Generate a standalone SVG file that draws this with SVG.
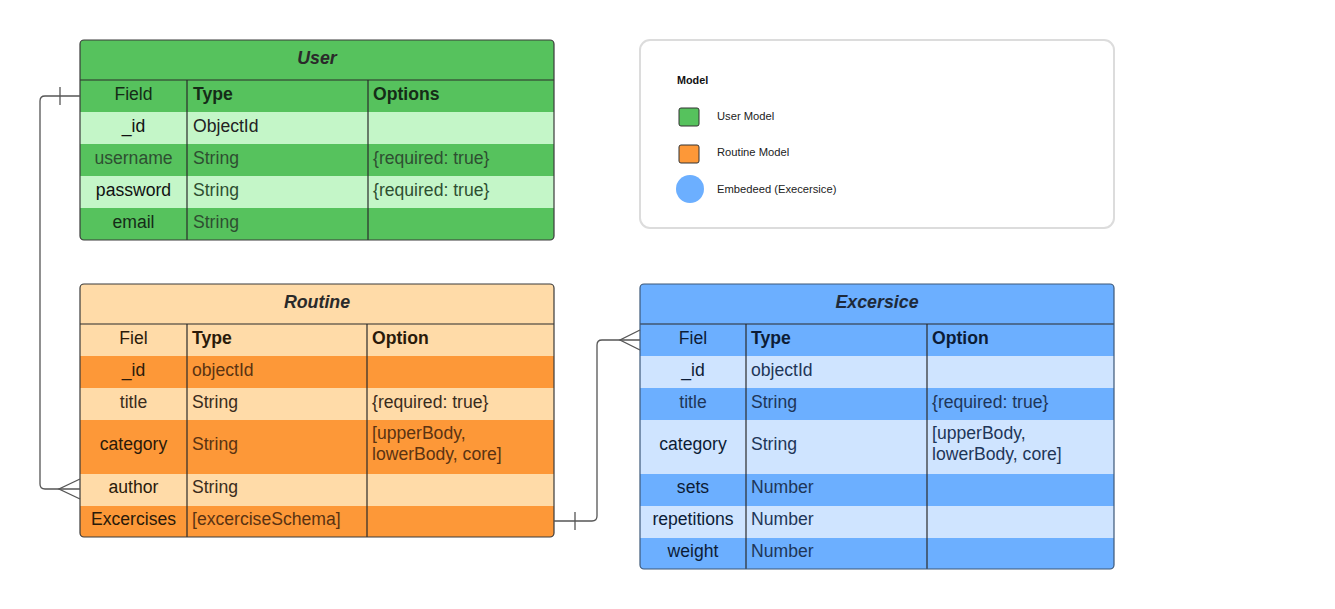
<svg xmlns="http://www.w3.org/2000/svg" width="1335" height="609" viewBox="0 0 1335 609">
<style>
text{font-family:"Liberation Sans",Arial,sans-serif;}
.ttl{font-size:17.8px;font-weight:bold;font-style:italic;text-anchor:middle;}
.c{font-size:17.6px;}
.m{text-anchor:middle;}
.b{font-weight:bold;}
.frame{fill:none;stroke:#3a3a3a;stroke-width:1.2;}
.div{stroke:#2a2a2a;stroke-width:1.2;}
.conn{fill:none;stroke:#555;stroke-width:1.3;}
.lg{font-size:11.2px;fill:#222;}
.g1{fill:#56c25d}.g2{fill:#c4f6c8}
.o1{fill:#fd9838}.o2{fill:#ffdba8}
.b1{fill:#6cafff}.b2{fill:#cfe4ff}
.gt{fill:#152c17}.gk{fill:#111}.gs{fill:#2e4f31}.gd{fill:#222}
.ot{fill:#2a1a0a}.os{fill:#5a3312}.ol{fill:#3a2c1c}
.bt{fill:#0c1c36}.bs{fill:#1e3658}
</style>
<defs>
<clipPath id="cu"><rect x="80" y="40" width="474" height="200" rx="4"/></clipPath>
<clipPath id="cr"><rect x="80" y="284" width="474" height="253" rx="4"/></clipPath>
<clipPath id="ce"><rect x="640" y="284" width="474" height="285" rx="4"/></clipPath>
</defs>
<rect width="1335" height="609" fill="#ffffff"/>

<g id="legend">
<rect x="640" y="40" width="474" height="188" rx="10" fill="#fff" stroke="#dcdcdc" stroke-width="2"/>
<text x="677" y="84" style="font-size:10.8px;font-weight:bold;fill:#111">Model</text>
<rect x="679" y="108" width="20" height="18" rx="2" fill="#56c25d" stroke="#333" stroke-width="1"/>
<text x="717" y="120" class="lg">User Model</text>
<rect x="679" y="145" width="20" height="18" rx="2" fill="#fd9838" stroke="#333" stroke-width="1"/>
<text x="717" y="156" class="lg">Routine Model</text>
<circle cx="690" cy="189" r="14" fill="#6cafff"/>
<text x="717" y="193" class="lg">Embedeed (Execersice)</text>
</g>

<g id="user">
<g clip-path="url(#cu)">
<rect x="80" y="40" width="474" height="40" class="g1"/>
<rect x="80" y="80" width="474" height="32" class="g1"/>
<rect x="80" y="112" width="474" height="32" class="g2"/>
<rect x="80" y="144" width="474" height="32" class="g1"/>
<rect x="80" y="176" width="474" height="32" class="g2"/>
<rect x="80" y="208" width="474" height="32" class="g1"/>
</g>
<line x1="80" y1="80" x2="554" y2="80" class="div"/>
<line x1="187" y1="80" x2="187" y2="240" class="div"/>
<line x1="368" y1="80" x2="368" y2="240" class="div"/>
<rect x="80" y="40" width="474" height="200" rx="4" class="frame"/>
<text x="317" y="64" class="ttl" fill="#2a2a2a">User</text>
<text x="133.5" y="100" class="c m gt">Field</text>
<text x="193" y="100" class="c b gt">Type</text>
<text x="373" y="100" class="c b gt">Options</text>
<text x="133.5" y="132" class="c m gk">_id</text>
<text x="193" y="132" class="c gd">ObjectId</text>
<text x="133.5" y="164" class="c m gs">username</text>
<text x="193" y="164" class="c gs">String</text>
<text x="373" y="164" class="c gs">{required: true}</text>
<text x="133.5" y="196" class="c m gk">password</text>
<text x="193" y="196" class="c gs">String</text>
<text x="373" y="196" class="c gs">{required: true}</text>
<text x="133.5" y="228" class="c m gt">email</text>
<text x="193" y="228" class="c gs">String</text>
</g>

<g id="routine">
<g clip-path="url(#cr)">
<rect x="80" y="284" width="474" height="40" class="o2"/>
<rect x="80" y="324" width="474" height="32" class="o2"/>
<rect x="80" y="356" width="474" height="32" class="o1"/>
<rect x="80" y="388" width="474" height="32" class="o2"/>
<rect x="80" y="420" width="474" height="54" class="o1"/>
<rect x="80" y="474" width="474" height="32" class="o2"/>
<rect x="80" y="506" width="474" height="31" class="o1"/>
</g>
<line x1="80" y1="324" x2="554" y2="324" class="div"/>
<line x1="187" y1="324" x2="187" y2="537" class="div"/>
<line x1="367" y1="324" x2="367" y2="537" class="div"/>
<rect x="80" y="284" width="474" height="253" rx="4" class="frame"/>
<text x="317" y="308" class="ttl" fill="#2a2a2a">Routine</text>
<text x="133.5" y="344" class="c m ot">Fiel</text>
<text x="192" y="344" class="c b ot">Type</text>
<text x="372" y="344" class="c b ot">Option</text>
<text x="133.5" y="376" class="c m ot">_id</text>
<text x="192" y="376" class="c os">objectId</text>
<text x="133.5" y="408" class="c m ol">title</text>
<text x="192" y="408" class="c ol">String</text>
<text x="372" y="408" class="c ol">{required: true}</text>
<text x="133.5" y="450" class="c m ot">category</text>
<text x="192" y="450" class="c os">String</text>
<text x="372" y="439" class="c os">[upperBody,</text>
<text x="372" y="460" class="c os">lowerBody, core]</text>
<text x="133.5" y="493" class="c m ot">author</text>
<text x="192" y="493" class="c ol">String</text>
<text x="133.5" y="525" class="c m ot">Excercises</text>
<text x="192" y="525" class="c os">[excerciseSchema]</text>
</g>

<g id="excersice">
<g clip-path="url(#ce)">
<rect x="640" y="284" width="474" height="40" class="b1"/>
<rect x="640" y="324" width="474" height="32" class="b1"/>
<rect x="640" y="356" width="474" height="32" class="b2"/>
<rect x="640" y="388" width="474" height="32" class="b1"/>
<rect x="640" y="420" width="474" height="54" class="b2"/>
<rect x="640" y="474" width="474" height="32" class="b1"/>
<rect x="640" y="506" width="474" height="32" class="b2"/>
<rect x="640" y="538" width="474" height="31" class="b1"/>
</g>
<line x1="640" y1="324" x2="1114" y2="324" class="div"/>
<line x1="746" y1="324" x2="746" y2="569" class="div"/>
<line x1="927" y1="324" x2="927" y2="569" class="div"/>
<rect x="640" y="284" width="474" height="285" rx="4" fill="none" stroke="#3d5878" stroke-width="1.2"/>
<text x="877" y="308" class="ttl" fill="#1e2a3a">Excersice</text>
<text x="693" y="344" class="c m bt">Fiel</text>
<text x="751" y="344" class="c b bt">Type</text>
<text x="932" y="344" class="c b bt">Option</text>
<text x="693" y="376" class="c m bt">_id</text>
<text x="751" y="376" class="c bs">objectId</text>
<text x="693" y="408" class="c m bs">title</text>
<text x="751" y="408" class="c bs">String</text>
<text x="932" y="408" class="c bs">{required: true}</text>
<text x="693" y="450" class="c m bt">category</text>
<text x="751" y="450" class="c bs">String</text>
<text x="932" y="439" class="c bs">[upperBody,</text>
<text x="932" y="460" class="c bs">lowerBody, core]</text>
<text x="693" y="493" class="c m bt">sets</text>
<text x="751" y="493" class="c bs">Number</text>
<text x="693" y="525" class="c m bt">repetitions</text>
<text x="751" y="525" class="c bs">Number</text>
<text x="693" y="557" class="c m bt">weight</text>
<text x="751" y="557" class="c bs">Number</text>
</g>

<g id="connectors">
<path class="conn" d="M80,96 H45 Q40,96 40,101 V484 Q40,489 45,489 H80"/>
<line class="conn" x1="60" y1="87" x2="60" y2="105"/>
<path class="conn" d="M80,479 L59,489 L80,499"/>
<path class="conn" d="M554,521 H592 Q597,521 597,516 V345 Q597,340 602,340 H640"/>
<line class="conn" x1="575" y1="512" x2="575" y2="530"/>
<path class="conn" d="M640,330 L620,340 L640,350"/>
</g>
</svg>
